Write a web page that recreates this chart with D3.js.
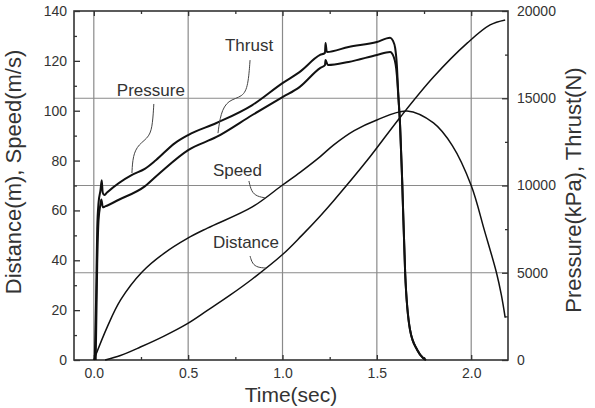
<!DOCTYPE html>
<html>
<head>
<meta charset="utf-8">
<script src="https://cdn.jsdelivr.net/npm/d3@7"></script>
<style>
  body { margin: 0; background: #fff; }
  text { font-family: "Liberation Sans", Arial, sans-serif; }
</style>
</head>
<body>
<div id="chart"></div>
<script>
// time (sec) vs value
var pressure = [
  [0.005, 0], [0.012, 3500], [0.018, 7500], [0.025, 9000], [0.035, 9700], [0.042, 10300],
  [0.047, 9600], [0.055, 9450], [0.07, 9600], [0.2, 10600], [0.27, 10950], [0.33, 11460],
  [0.43, 12430], [0.5, 12890], [0.65, 13580], [0.84, 14610], [1.0, 15870], [1.09, 16500],
  [1.199, 17480], [1.225, 17600], [1.228, 18170], [1.235, 17650], [1.35, 17940], [1.5, 18220],
  [1.57, 18470], [1.585, 18300], [1.597, 17880], [1.606, 16900], [1.613, 15360], [1.623, 13470],
  [1.634, 10320], [1.65, 4990], [1.676, 1720], [1.714, 573], [1.745, 115], [1.76, 0]
];
var thrust = [
  [0.01, 0], [0.018, 5500], [0.025, 8000], [0.035, 8900], [0.04, 9200], [0.048, 8750],
  [0.06, 8800], [0.13, 9170], [0.27, 9950], [0.35, 10720], [0.5, 12030], [0.65, 12780],
  [0.84, 14040], [1.0, 15070], [1.09, 15640], [1.199, 16730], [1.225, 16900], [1.228, 17190],
  [1.24, 16900], [1.35, 17080], [1.5, 17480], [1.57, 17650], [1.59, 17350], [1.606, 16330],
  [1.615, 14900], [1.623, 13470], [1.634, 10320], [1.65, 4990], [1.676, 1720], [1.714, 573],
  [1.745, 115], [1.76, 0]
];
var speed = [
  [0, 0], [0.072, 13.4], [0.142, 24.1], [0.257, 35.4], [0.372, 42.8], [0.496, 48.8],
  [0.602, 52.9], [0.84, 61.4], [1.0, 70.2], [1.095, 75.4], [1.2, 81.6], [1.27, 86.2],
  [1.38, 92.0], [1.5, 96.3], [1.66, 99.9], [1.8, 95.1], [1.9, 86], [2.0, 70], [2.07, 52],
  [2.134, 35], [2.16, 26], [2.18, 17]
];
var distance = [
  [0.06, 0], [0.141, 1.8], [0.247, 5.2], [0.372, 9.6], [0.496, 14.6], [0.602, 19.9],
  [0.72, 25.9], [0.84, 32.5], [1.0, 42.3], [1.1, 49.8], [1.2, 57.8], [1.27, 63.8],
  [1.45, 80.2], [1.625, 97.5], [1.8, 113.5], [1.98, 127.2], [2.1, 134.4], [2.18, 136.4]
];

var xTicks = [0, 0.5, 1.0, 1.5, 2.0];
var xMinor = [0.25, 0.75, 1.25, 1.75];
var leftTicks = [0, 20, 40, 60, 80, 100, 120, 140];
var leftMinor = [10, 30, 50, 70, 90, 110, 130];
var rightTicks = [0, 5000, 10000, 15000, 20000];
var rightMinor = [2500, 7500, 12500, 17500];
var gridRight = [5000, 10000, 15000];

// curve labels and their leader lines (left-axis units)
var labels = [
  {name: "Pressure", t: 0.122, v: 105.9},
  {name: "Thrust", t: 0.695, v: 123.9},
  {name: "Speed", t: 0.631, v: 73.8},
  {name: "Distance", t: 0.631, v: 44.9}
];
var leaders = [
  [[0.318, 102.7], [0.312, 95], [0.297, 89.5], [0.236, 86.5], [0.207, 82], [0.202, 75.0]],
  [[0.828, 120.3], [0.818, 110], [0.79, 105.5], [0.71, 104.3], [0.672, 99], [0.658, 91.0]],
  [[0.822, 71.8], [0.835, 67.5], [0.865, 65.6], [0.912, 65.0]],
  [[0.828, 41.7], [0.84, 38.6], [0.868, 37.1], [0.912, 36.9]]
];

var margin = {top: 11, right: 87, bottom: 48, left: 74},
  width = 595 - margin.left - margin.right,
  height = 408 - margin.top - margin.bottom;

var svg = d3.select("#chart")
  .append("svg")
  .attr("width", 595)
  .attr("height", 408);

var g = svg.append("g")
  .attr("transform", "translate(" + margin.left + "," + margin.top + ")");

var x = d3.scaleLinear().domain([-0.105, 2.195]).range([0, width]);
var yL = d3.scaleLinear().domain([0, 140]).range([height, 0]);
var yR = d3.scaleLinear().domain([0, 20000]).range([height, 0]);

// grid
g.selectAll(".vgrid").data(xTicks).enter().append("line")
  .attr("x1", function(d) { return x(d); }).attr("x2", function(d) { return x(d); })
  .attr("y1", 0).attr("y2", height)
  .attr("stroke", "#8a8a8a").attr("stroke-width", 1.2);
g.selectAll(".hgrid").data(gridRight).enter().append("line")
  .attr("x1", 0).attr("x2", width)
  .attr("y1", function(d) { return yR(d); }).attr("y2", function(d) { return yR(d); })
  .attr("stroke", "#8a8a8a").attr("stroke-width", 1.2);

function styleAxis(sel) {
  sel.select(".domain").remove();
  sel.selectAll("line").attr("stroke", "#333").attr("stroke-width", 1.3);
  sel.selectAll("text").attr("font-size", "14px").attr("fill", "#333")
    .style("font-family", "'Liberation Sans', Arial, sans-serif");
}

// axes, ticks pointing inward
g.append("g").attr("transform", "translate(0," + height + ")")
  .call(d3.axisBottom(x).tickValues(xTicks).tickFormat(d3.format(".1f")).tickSize(-5).tickPadding(8))
  .call(styleAxis);
g.append("g").attr("transform", "translate(0," + height + ")")
  .call(d3.axisBottom(x).tickValues(xMinor).tickFormat("").tickSize(-3))
  .call(styleAxis);
g.append("g")
  .call(d3.axisTop(x).tickValues(xTicks).tickFormat("").tickSize(-5))
  .call(styleAxis);
g.append("g")
  .call(d3.axisTop(x).tickValues(xMinor).tickFormat("").tickSize(-3))
  .call(styleAxis);
g.append("g")
  .call(d3.axisLeft(yL).tickValues(leftTicks).tickSize(-6).tickPadding(7))
  .call(styleAxis);
g.append("g")
  .call(d3.axisLeft(yL).tickValues(leftMinor).tickFormat("").tickSize(-3))
  .call(styleAxis);
g.append("g").attr("transform", "translate(" + width + ",0)")
  .call(d3.axisRight(yR).tickValues(rightTicks).tickFormat(d3.format("d")).tickSize(-6).tickPadding(9))
  .call(styleAxis);
g.append("g").attr("transform", "translate(" + width + ",0)")
  .call(d3.axisRight(yR).tickValues(rightMinor).tickFormat("").tickSize(-3))
  .call(styleAxis);

// frame
g.append("rect")
  .attr("width", width).attr("height", height)
  .attr("fill", "none").attr("stroke", "#333").attr("stroke-width", 1.6);

// curves
var lineR = d3.line()
  .x(function(d) { return x(d[0]); })
  .y(function(d) { return yR(d[1]); })
  .curve(d3.curveMonotoneX);
var lineL = d3.line()
  .x(function(d) { return x(d[0]); })
  .y(function(d) { return yL(d[1]); })
  .curve(d3.curveCatmullRom.alpha(0.5));

g.append("path").datum(pressure).attr("d", lineR)
  .attr("fill", "none").attr("stroke", "#111").attr("stroke-width", 2);
g.append("path").datum(thrust).attr("d", lineR)
  .attr("fill", "none").attr("stroke", "#111").attr("stroke-width", 2);
g.append("path").datum(speed).attr("d", lineL)
  .attr("fill", "none").attr("stroke", "#111").attr("stroke-width", 1.5);
g.append("path").datum(distance).attr("d", lineL)
  .attr("fill", "none").attr("stroke", "#111").attr("stroke-width", 1.5);

// leaders
var leaderLine = d3.line()
  .x(function(d) { return x(d[0]); })
  .y(function(d) { return yL(d[1]); })
  .curve(d3.curveBasis);
g.selectAll(".leader").data(leaders).enter().append("path")
  .attr("d", leaderLine)
  .attr("fill", "none").attr("stroke", "#444").attr("stroke-width", 1);

g.selectAll(".lbl").data(labels).enter().append("text")
  .attr("x", function(d) { return x(d.t); })
  .attr("y", function(d) { return yL(d.v); })
  .attr("font-size", "17px")
  .attr("fill", "#333")
  .text(function(d) { return d.name; });

// axis titles
svg.append("text")
  .attr("transform", "translate(21,172) rotate(-90)")
  .attr("text-anchor", "middle")
  .attr("font-size", "22px").attr("fill", "#333")
  .text("Distance(m), Speed(m/s)");
svg.append("text")
  .attr("transform", "translate(581,190) rotate(-90)")
  .attr("text-anchor", "middle")
  .attr("font-size", "22px").attr("fill", "#333")
  .text("Pressure(kPa), Thrust(N)");
svg.append("text")
  .attr("x", 291).attr("y", 402)
  .attr("text-anchor", "middle")
  .attr("font-size", "21px").attr("fill", "#333")
  .text("Time(sec)");
</script>
</body>
</html>
